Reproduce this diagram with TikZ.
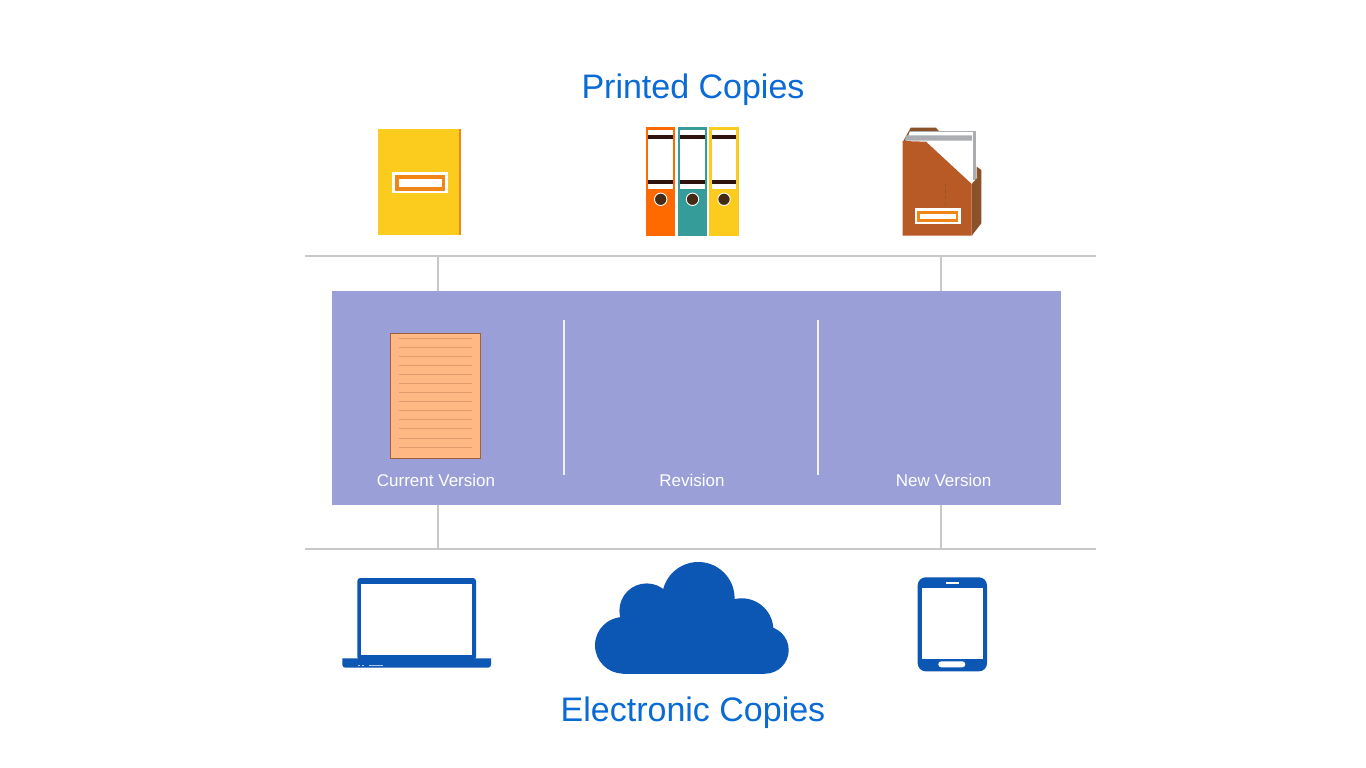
\documentclass[tikz,border=0pt]{standalone}
\usepackage{fontspec}
\setmainfont{Liberation Sans}
\definecolor{titleblue}{HTML}{0A6AD6}
\definecolor{iconblue}{HTML}{0C56B4}
\definecolor{panel}{HTML}{9A9FD8}
\definecolor{rulegray}{HTML}{C8C8C8}
\definecolor{bookyellow}{HTML}{FBCB1E}
\definecolor{accent}{HTML}{F08518}
\definecolor{binderorange}{HTML}{FF6A00}
\definecolor{binderteal}{HTML}{359C9A}
\definecolor{darkbrown}{HTML}{2E140C}
\definecolor{ringbrown}{HTML}{452A14}
\definecolor{boxbrown}{HTML}{B85A26}
\definecolor{sidebrown}{HTML}{8A5228}
\definecolor{papergray}{HTML}{ABADB2}
\definecolor{sheet}{HTML}{FFB783}
\definecolor{sheetedge}{HTML}{A0603F}
\definecolor{sheetline}{HTML}{E29A6C}
\tikzset{
  titletext/.style={text=titleblue,font=\fontsize{34}{38}\selectfont,inner sep=0pt},
  captext/.style={text=white,font=\fontsize{17}{19}\selectfont,inner sep=0pt},
  link/.style={draw=rulegray,line width=2.2pt},
  divider/.style={draw=white!85!panel,line width=1.6pt},
  icon/.style={fill=iconblue,draw=none},
  hole/.style={fill=white,draw=none}
}
\newcommand{\binder}[3]{%
  \fill[#2] (#1,127) rectangle ++(29.7,109.3);
  \fill[white] (#1+2.7,129.7) rectangle ++(24.4,59.3);
  \fill[darkbrown] (#1+2.7,135) rectangle ++(24.4,4.3);
  \fill[darkbrown] (#1+2.7,179.7) rectangle ++(24.4,4);
  \fill[ringbrown,draw=white,line width=0.9pt] (#1+15,199.3) circle (6.2);
}
\begin{document}
\begin{tikzpicture}[x=1pt,y=-1pt]
\useasboundingbox (0,0) rectangle (1366,768);
\fill[white] (0,0) rectangle (1366,768);

\node[titletext] (printed) at (693,89.5) {Printed Copies};
\node[titletext] (electronic) at (693,713) {Electronic Copies};

% book
\fill[bookyellow] (378,128.5) rectangle (459,235);
\fill[accent] (458.5,128.5) rectangle (461,235);
\fill[white] (392.3,172.3) rectangle (447.7,192.7);
\fill[accent] (394.8,174.8) rectangle (445.2,190.5);
\fill[white] (398.8,178.5) rectangle (441.5,186.9);

% binders
\binder{645.7}{binderorange}{}
\binder{677.5}{binderteal}{}
\binder{709}{bookyellow}{}

% magazine box
\fill[sidebrown] (903.3,141) -- (910.7,127.7) -- (936,127.7) -- (938.7,131) -- (938.7,145) -- cycle;
\fill[white] (910,131) -- (976,131) -- (976,183) -- (972,185) -- (906,142) -- cycle;
\fill[papergray] (973.3,131) rectangle (976,180);
\fill[papergray] (910,131) rectangle (976,132);
\fill[papergray] (906,135.3) -- (972,135.3) -- (972,140.5) -- (905,140.5) -- cycle;
\fill[sidebrown] (971.7,184) -- (976.7,178.3) -- (976.7,166.7) -- (981.3,170) -- (981.3,223.3) -- (971.7,235.7) -- cycle;
\fill[boxbrown] (902.7,141) -- (926,141.7) -- (971.7,184) -- (971.7,235.7) -- (902.7,235.7) -- cycle;
\draw[sidebrown!70!boxbrown,line width=0.4pt,dashed] (945,184) -- (945,207);
\fill[white] (915,208.3) rectangle (960.7,223.7);
\fill[accent] (917.4,210.8) rectangle (958.4,221.5);
\fill[white] (920.3,213.7) rectangle (955.7,218.8);

% links and rules
\coordinate (topL) at (305,256);
\coordinate (topR) at (1096,256);
\coordinate (botL) at (305,549);
\coordinate (botR) at (1096,549);
\coordinate (t1) at (438.3,256);
\coordinate (t2) at (941.3,256);
\coordinate (b1) at (438.3,549);
\coordinate (b2) at (941.3,549);
\coordinate (p1) at (438.3,291);
\coordinate (p2) at (941.3,291);
\coordinate (q1) at (438.3,505);
\coordinate (q2) at (941.3,505);
\draw[link] (topL) -- (topR);
\draw[link] (botL) -- (botR);
\draw[link] (t1) -- (p1);
\draw[link] (t2) -- (p2);
\draw[link] (q1) -- (b1);
\draw[link] (q2) -- (b2);

% panel
\fill[panel] (332,291) rectangle (1061.2,505);
\coordinate (d1a) at (564,320);
\coordinate (d1b) at (564,475);
\coordinate (d2a) at (818,320);
\coordinate (d2b) at (818,475);
\draw[divider] (d1a) -- (d1b);
\draw[divider] (d2a) -- (d2b);

% sheet
\filldraw[fill=sheet,draw=sheetedge,line width=0.9pt] (390.3,333.6) rectangle (480.4,458.4);
\foreach \ly in {338.5,347.5,356.5,365.5,374.5,383.5,392.5,401.5,410.5,419.5,428.5,438.5,447.5}
  \draw[sheetline,line width=1.1pt] (399,\ly) -- (472,\ly);

\node[captext] (cur) at (436,480) {Current Version};
\node[captext] (rev) at (692,480) {Revision};
\node[captext] (new) at (943.5,480) {New Version};

% laptop
\fill[icon,rounded corners=3pt] (357.3,660) -- (357.3,578) -- (476,578) -- (476,660) -- cycle;
\fill[hole] (361.3,583.7) rectangle (472,655.3);
\fill[icon] (342.3,658.3) -- (491,658.3) [rounded corners=3pt] -- (491,667.7) -- (342.3,667.7) [sharp corners] -- cycle;
\fill[white!70!iconblue] (358.3,665) rectangle (360,665.8);
\fill[white!70!iconblue] (362.3,665) rectangle (364,665.8);
\fill[white!70!iconblue] (369,665) rectangle (382.7,665.8);

% cloud
\fill[icon] (623.3,645.3) circle (28.3);
\fill[icon] (646.7,610.7) circle (27.3);
\fill[icon] (698.3,598.3) circle (36.3);
\fill[icon] (741.7,630) circle (31.7);
\fill[icon] (765,650) circle (23.7);
\fill[icon] (623.3,640) rectangle (765,673.7);
\fill[icon] (650,610) rectangle (745,650);

% tablet
\fill[icon,rounded corners=8pt] (917.7,577.3) rectangle (987,671.3);
\fill[hole] (922,588.3) rectangle (983.3,658.7);
\fill[hole] (945.7,581.6) rectangle (959.3,583.6);
\fill[hole,rounded corners=3pt] (938.3,661.3) rectangle (965.3,667.3);
\end{tikzpicture}
\end{document}
